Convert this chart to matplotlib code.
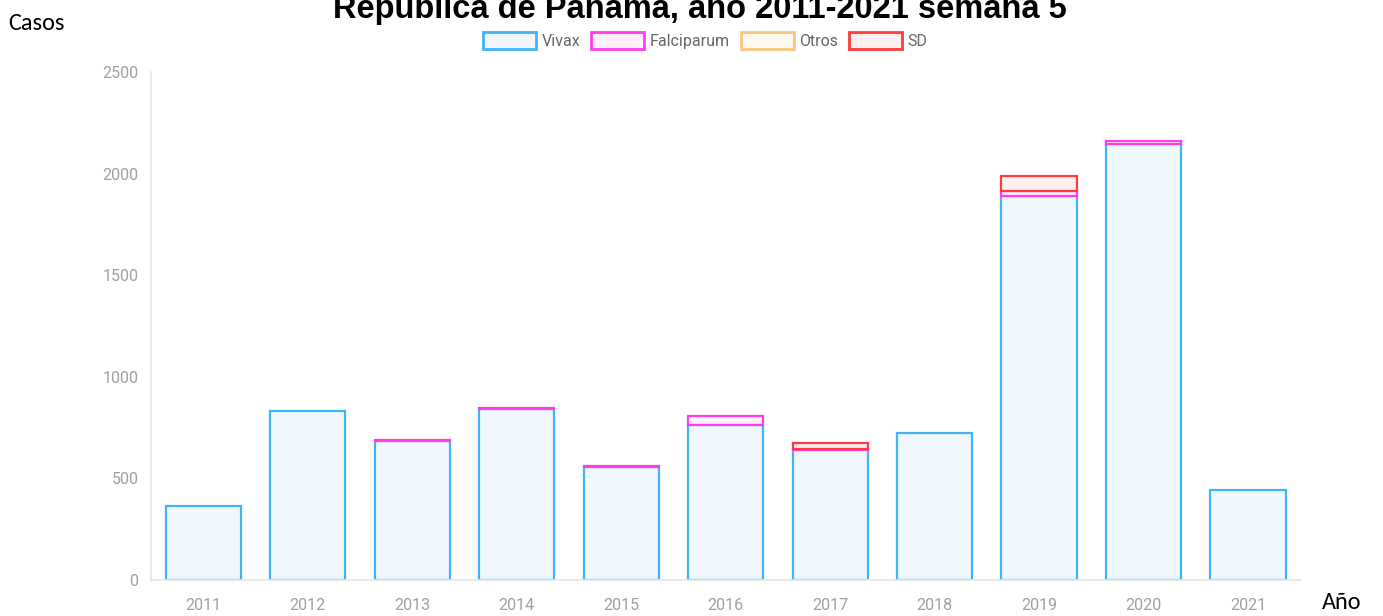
import matplotlib.pyplot as plt
import numpy as np
from matplotlib.patches import Patch

# Datos
years = ["2011", "2012", "2013", "2014", "2015", "2016", "2017", "2018", "2019", "2020", "2021"]
vivax = [365, 832, 682, 842, 555, 765, 640, 725, 1890, 2148, 445]
falciparum = [0, 0, 8, 5, 7, 40, 4, 0, 25, 12, 0]
otros = [0, 0, 0, 0, 0, 0, 0, 0, 0, 0, 0]
sd = [0, 0, 0, 0, 0, 0, 32, 0, 72, 0, 0]
yticks = [0, 500, 1000, 1500, 2000, 2500]

series = [
    ("Vivax", vivax, "#40b4f5", "#f0f7fd"),
    ("Falciparum", falciparum, "#ff3cf0", "#fff0fc"),
    ("Otros", otros, "#f5c77e", "#fdf9f0"),
    ("SD", sd, "#ff3a3a", "#fff0f0"),
]

fig = plt.figure(figsize=(13.83, 6.16), dpi=100)
ax = fig.add_axes([0.1092, 0.0584, 0.831, 0.8246])

x = np.arange(len(years))
bottom = np.zeros(len(years))
for name, vals, edge, face in series:
    vals = np.array(vals, dtype=float)
    keep = vals > 0  # no dibujar segmentos vacios
    if keep.any():
        ax.bar(x[keep], vals[keep], width=0.72, bottom=bottom[keep], color=face,
               edgecolor=edge, linewidth=1.6, label=name, zorder=2)
    bottom += vals

ax.set_xlim(-0.5, len(years) - 0.5)
ax.set_ylim(0, 2500)
ax.set_yticks(yticks)
ax.set_xticks(x)
ax.set_xticklabels(years)

tick_font = ['Liberation Sans Narrow', 'Roboto', 'DejaVu Sans']
for lab in ax.get_xticklabels() + ax.get_yticklabels():
    lab.set_family(tick_font)
    lab.set_fontsize(11.5)
    lab.set_color("#a0a0a0")
ax.tick_params(axis="x", length=0, pad=13)
ax.tick_params(axis="y", length=0, pad=9)

for s in ["top", "right"]:
    ax.spines[s].set_visible(False)
for s in ["left", "bottom"]:
    ax.spines[s].set_color("#e4e4e4")
    ax.spines[s].set_linewidth(1.2)

handles = [Patch(facecolor=f, edgecolor=e, linewidth=2, label=n) for n, _, e, f in series]
leg = fig.legend(handles=handles, loc="center", bbox_to_anchor=(0.51, 0.934), ncol=4,
                 frameon=False, handlelength=3.3, handleheight=1.3, columnspacing=0.7,
                 handletextpad=0.35, prop={"family": tick_font, "size": 11.5})
for t in leg.get_texts():
    t.set_color("#666666")

fig.text(0.506, 0.971, "República de Panamá, año 2011-2021 semana 5", ha="center", va="baseline",
         fontsize=23.5, fontweight="bold", family="Liberation Sans")
fig.text(0.006, 0.951, "Casos", ha="left", va="baseline", fontsize=17.5,
         family=["Carlito", "Open Sans", "DejaVu Sans"])
fig.text(0.956, 0.011, "Año", ha="left", va="baseline", fontsize=17.5,
         family=["Carlito", "Open Sans", "DejaVu Sans"])

fig.savefig("out.png", dpi=100)
